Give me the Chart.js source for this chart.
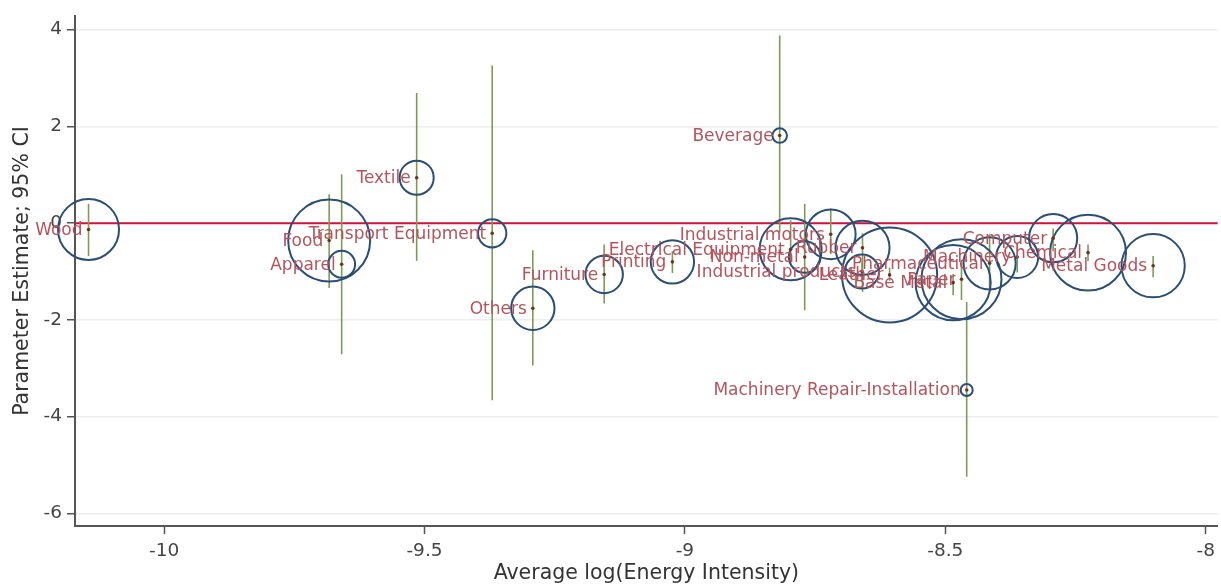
<!DOCTYPE html>
<html>
<head>
<meta charset="utf-8">
<script src="https://cdn.jsdelivr.net/npm/chart.js@4.4.1/dist/chart.umd.min.js"></script>
<style>
  html, body { margin: 0; padding: 0; background: #ffffff; }
  #wrap { width: 1221px; height: 588px; }
</style>
</head>
<body>
<div id="wrap"><canvas id="c" width="1221" height="588"></canvas></div>
<script>
// ---- Data ----
const industries = [
  "Wood", "Food", "Apparel", "Textile", "Transport Equipment", "Others",
  "Furniture", "Printing", "Electrical Equipment", "Beverage", "Industrial motors",
  "Non-metal", "Rubber", "Industrial products", "Leather", "Base Metal", "Paper",
  "Pharmaceutical", "Machinery", "Computer", "Chemical", "Metal Goods",
  "Machinery Repair-Installation"
];
const avgLogEI = [
  -10.145, -9.683, -9.659, -9.515, -9.370, -9.292,
  -9.155, -9.024, -8.797, -8.818, -8.720,
  -8.770, -8.659, -8.660, -8.607, -8.485, -8.469,
  -8.415, -8.362, -8.293, -8.226, -8.101,
  -8.459
];
const estimates = [
  -0.13, -0.36, -0.85, 0.94, -0.21, -1.76,
  -1.06, -0.80, -0.54, 1.81, -0.23,
  -0.70, -0.51, -1.00, -1.07, -1.23, -1.16,
  -0.83, -0.70, -0.31, -0.61, -0.88,
  -3.45
];
const ciLower = [
  -0.68, -1.34, -2.71, -0.78, -3.66, -2.94,
  -1.66, -1.03, -0.85, -0.20, -0.64,
  -1.80, -1.42, -1.20, -1.19, -1.49, -1.59,
  -1.37, -1.02, -0.58, -0.78, -1.12,
  -5.24
];
const ciUpper = [
  0.40, 0.60, 1.01, 2.69, 3.26, -0.56,
  -0.44, -0.58, 0.06, 3.88, 0.30,
  0.40, -0.21, -0.80, -0.92, -1.05, -0.82,
  -0.31, -0.41, -0.11, -0.44, -0.68,
  -1.63
];
const weights = [
  93, 168, 18, 29, 20, 47,
  35, 47, 96, 5.3, 62,
  25, 73, 29, 226, 141, 160,
  68, 44, 58, 144, 100,
  3.6
];
const xTickValues = [-10, -9.5, -9, -8.5, -8];
const yTickValues = [4, 2, 0, -2, -4, -6];

// ---- Styling ----
const FONT = "'DejaVu Sans', 'Liberation Sans', sans-serif";
const labelColor = "#b4545c";
const circleColor = "#2a4e76";
const ciColor = "#7e9a58";
const dotColor = "#6a3426";
const zeroColor = "#d3123c";
const bubbleScale = 10;

const bubbleData = industries.map((n, i) => ({ x: avgLogEI[i], y: estimates[i], r: Math.sqrt(weights[i] * bubbleScale) }));
const dotData = industries.map((n, i) => ({ x: avgLogEI[i], y: estimates[i] }));

const zeroLinePlugin = {
  id: 'zeroLine',
  beforeDatasetsDraw(chart) {
    const { ctx, chartArea, scales } = chart;
    const y = scales.y.getPixelForValue(0);
    ctx.save();
    ctx.strokeStyle = zeroColor;
    ctx.lineWidth = 2;
    ctx.beginPath();
    ctx.moveTo(chartArea.left, y);
    ctx.lineTo(chartArea.right, y);
    ctx.stroke();
    ctx.restore();
  }
};

const ciPlugin = {
  id: 'ciLines',
  beforeDatasetsDraw(chart) {
    const { ctx, scales } = chart;
    ctx.save();
    ctx.strokeStyle = ciColor;
    ctx.lineWidth = 1.6;
    industries.forEach((n, i) => {
      const x = scales.x.getPixelForValue(avgLogEI[i]);
      const y1 = scales.y.getPixelForValue(ciLower[i]);
      const y2 = scales.y.getPixelForValue(ciUpper[i]);
      ctx.beginPath();
      ctx.moveTo(x, y1);
      ctx.lineTo(x, y2);
      ctx.stroke();
    });
    ctx.restore();
  }
};

const labelPlugin = {
  id: 'pointLabels',
  afterDatasetsDraw(chart) {
    const { ctx, scales } = chart;
    ctx.save();
    ctx.fillStyle = labelColor;
    ctx.font = "17px " + FONT;
    ctx.textAlign = 'right';
    ctx.textBaseline = 'middle';
    industries.forEach((n, i) => {
      const x = scales.x.getPixelForValue(avgLogEI[i]);
      const y = scales.y.getPixelForValue(estimates[i]);
      ctx.fillText(n, x - 6, y + 1);
    });
    ctx.restore();
  }
};

new Chart(document.getElementById('c'), {
  type: 'scatter',
  data: {
    datasets: [
      {
        type: 'bubble',
        data: bubbleData,
        backgroundColor: 'rgba(0,0,0,0)',
        borderColor: circleColor,
        borderWidth: 2,
        hoverRadius: 0,
        clip: false,
        order: 2
      },
      {
        type: 'scatter',
        data: dotData,
        pointRadius: 1.8,
        pointBackgroundColor: dotColor,
        pointBorderWidth: 0,
        order: 1
      }
    ]
  },
  options: {
    responsive: false,
    animation: false,
    devicePixelRatio: 1,
    layout: { autoPadding: false, padding: { top: 6, right: 3, bottom: 0, left: 0 } },
    plugins: { legend: { display: false }, tooltip: { enabled: false } },
    events: [],
    scales: {
      x: {
        type: 'linear',
        min: -10.171,
        max: -7.977,
        afterBuildTicks(scale) { scale.ticks = xTickValues.map(v => ({ value: v })); },
        afterFit(scale) { scale.height = 62; },
        grid: { drawOnChartArea: false, drawTicks: true, tickLength: 8, tickColor: '#555', tickWidth: 1.5 },
        border: { display: true, color: '#555', width: 2 },
        ticks: {
          color: '#444',
          font: { family: FONT, size: 18.5 },
          padding: 6,
          maxRotation: 0,
          callback: v => String(v)
        },
        title: {
          display: true,
          text: 'Average log(Energy Intensity)',
          color: '#333',
          font: { family: FONT, size: 20.5 },
          padding: { top: 0, bottom: 2 }
        }
      },
      y: {
        type: 'linear',
        min: -6.26,
        max: 4.28,
        afterBuildTicks(scale) { scale.ticks = yTickValues.map(v => ({ value: v })); },
        afterFit(scale) { scale.width = 75; },
        grid: { color: '#eaeeee', lineWidth: 1.5, drawTicks: true, tickLength: 8, tickColor: '#555', tickWidth: 1.5 },
        border: { display: true, color: '#555', width: 2 },
        ticks: {
          color: '#444',
          font: { family: FONT, size: 18.5 },
          padding: 5,
          callback: v => String(v)
        },
        title: {
          display: true,
          text: 'Parameter Estimate; 95% CI',
          color: '#333',
          font: { family: FONT, size: 20.5 },
          padding: { top: 10, bottom: 0 }
        }
      }
    }
  },
  plugins: [zeroLinePlugin, ciPlugin, labelPlugin]
});
</script>
</body>
</html>
